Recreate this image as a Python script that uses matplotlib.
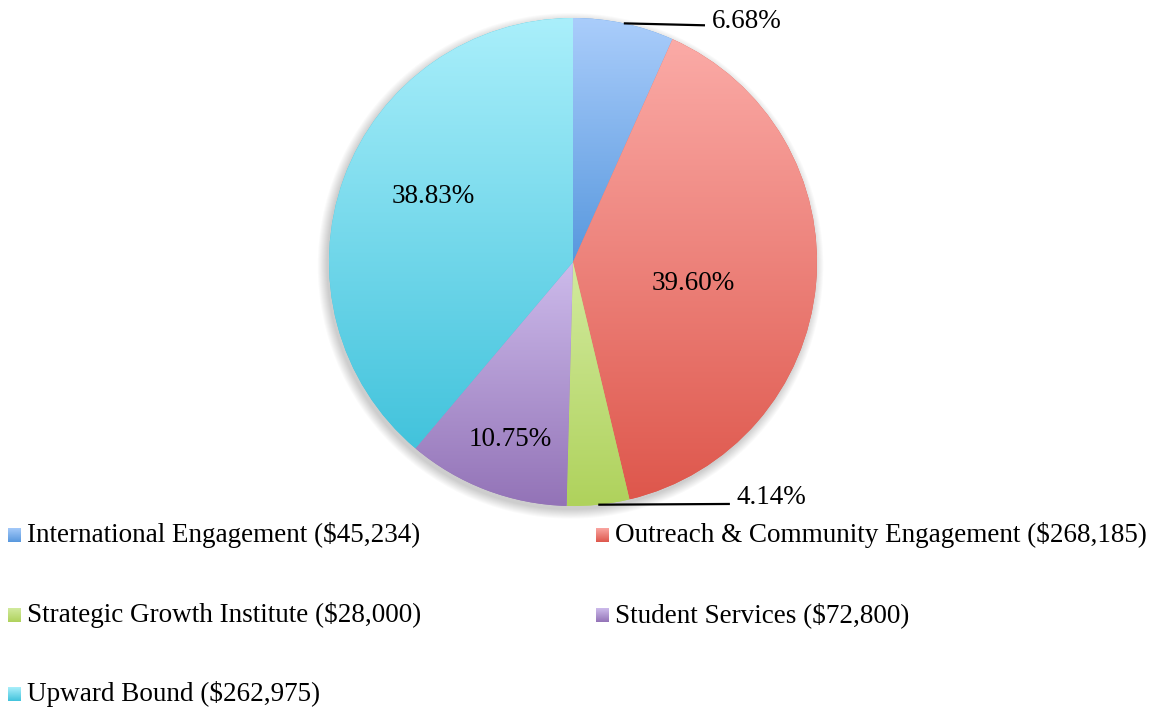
import numpy as np
import matplotlib
matplotlib.use("Agg")
import matplotlib.pyplot as plt
from matplotlib.colors import to_rgb
from matplotlib.patches import Circle

plt.rcParams["font.family"] = ["Liberation Serif", "DejaVu Serif"]

# ---- data ----
categories = ["International Engagement", "Outreach & Community Engagement",
              "Strategic Growth Institute", "Student Services", "Upward Bound"]
amounts = ["$45,234", "$268,185", "$28,000", "$72,800", "$262,975"]
shares = [6.68, 39.60, 4.14, 10.75, 38.83]

# gradient colours per slice (top, bottom)
top_colors = ["#aacdfb", "#fbaba7", "#d2ea9e", "#cdbbeb", "#aaeffb"]
bot_colors = ["#5898de", "#de574c", "#afd25c", "#9373b7", "#42c3dc"]

W, H = 1175, 713
FS = 19.5


def grad(c1, c2, n=256):
    a, b = np.array(to_rgb(c1)), np.array(to_rgb(c2))
    t = np.linspace(0, 1, n)[:, None]
    return (a * (1 - t) + b * t)[:, None, :]


fig = plt.figure(figsize=(W / 100, H / 100), dpi=100)
ax = fig.add_axes([329 / W, (H - 506) / H, 488 / W, 488 / H])

wedges, _ = ax.pie(shares, startangle=90, counterclock=False, radius=1,
                   wedgeprops=dict(linewidth=0, edgecolor="none"))
ax.set_xlim(-1, 1)
ax.set_ylim(-1, 1)
ax.set_aspect("equal")
ax.axis("off")

# soft shadow
for k in range(10):
    ax.add_patch(Circle((-0.010, -0.016), 1.0 + k * 0.004, color="black",
                        alpha=0.018, zorder=0, linewidth=0, clip_on=False))

for w, c1, c2 in zip(wedges, top_colors, bot_colors):
    w.set_facecolor(c2)
    w.set_zorder(1)
    bb = w.get_path().get_extents()
    im = ax.imshow(grad(c1, c2), extent=[bb.x0, bb.x1, bb.y0, bb.y1],
                   origin="upper", aspect="auto", zorder=2, interpolation="bilinear")
    im.set_clip_path(w)
ax.set_xlim(-1, 1)
ax.set_ylim(-1, 1)

# inside labels (radius, angle tweak)
label_r = [None, 0.50, None, 0.77, 0.634]
label_dt = [0, -5, 0, 1.4, -5]
for w, s, r, dt in zip(wedges, shares, label_r, label_dt):
    if r is None:
        continue
    th = np.deg2rad((w.theta1 + w.theta2) / 2 + dt)
    ax.text(r * np.cos(th), r * np.sin(th), f"{s:.2f}%", ha="center", va="center",
            fontsize=FS, zorder=5)

# outside labels with leader lines
outside = {0: (0.541, 0.570, 0.985), 2: (0.643, 0.672, -0.967)}
for i, (xe, xt, yt) in outside.items():
    w = wedges[i]
    th = np.deg2rad((w.theta1 + w.theta2) / 2)
    x0, y0 = np.cos(th), np.sin(th)
    ly = y0 - 0.008 if i == 0 else y0 + 0.003
    ax.plot([x0, xe], [y0, ly], color="black", lw=1.6, zorder=5, clip_on=False,
            solid_capstyle="butt")
    ax.text(xt, yt, f"{shares[i]:.2f}%", ha="left", va="center", fontsize=FS,
            zorder=5, clip_on=False)

# legend, two columns
col_x = [8, 596]
row_y = [535, 615, 694]
for i, (cat, amt) in enumerate(zip(categories, amounts)):
    cx, cy = col_x[i % 2], row_y[i // 2]
    lax = fig.add_axes([cx / W, (H - cy - 7) / H, 13 / W, 14 / H])
    lax.imshow(grad(top_colors[i], bot_colors[i]), aspect="auto", extent=[0, 1, 0, 1])
    lax.axis("off")
    fig.text((cx + 19) / W, (H - cy) / H, f"{cat} ({amt})", ha="left", va="center",
             fontsize=FS)

fig.savefig("out.png", dpi=100)
